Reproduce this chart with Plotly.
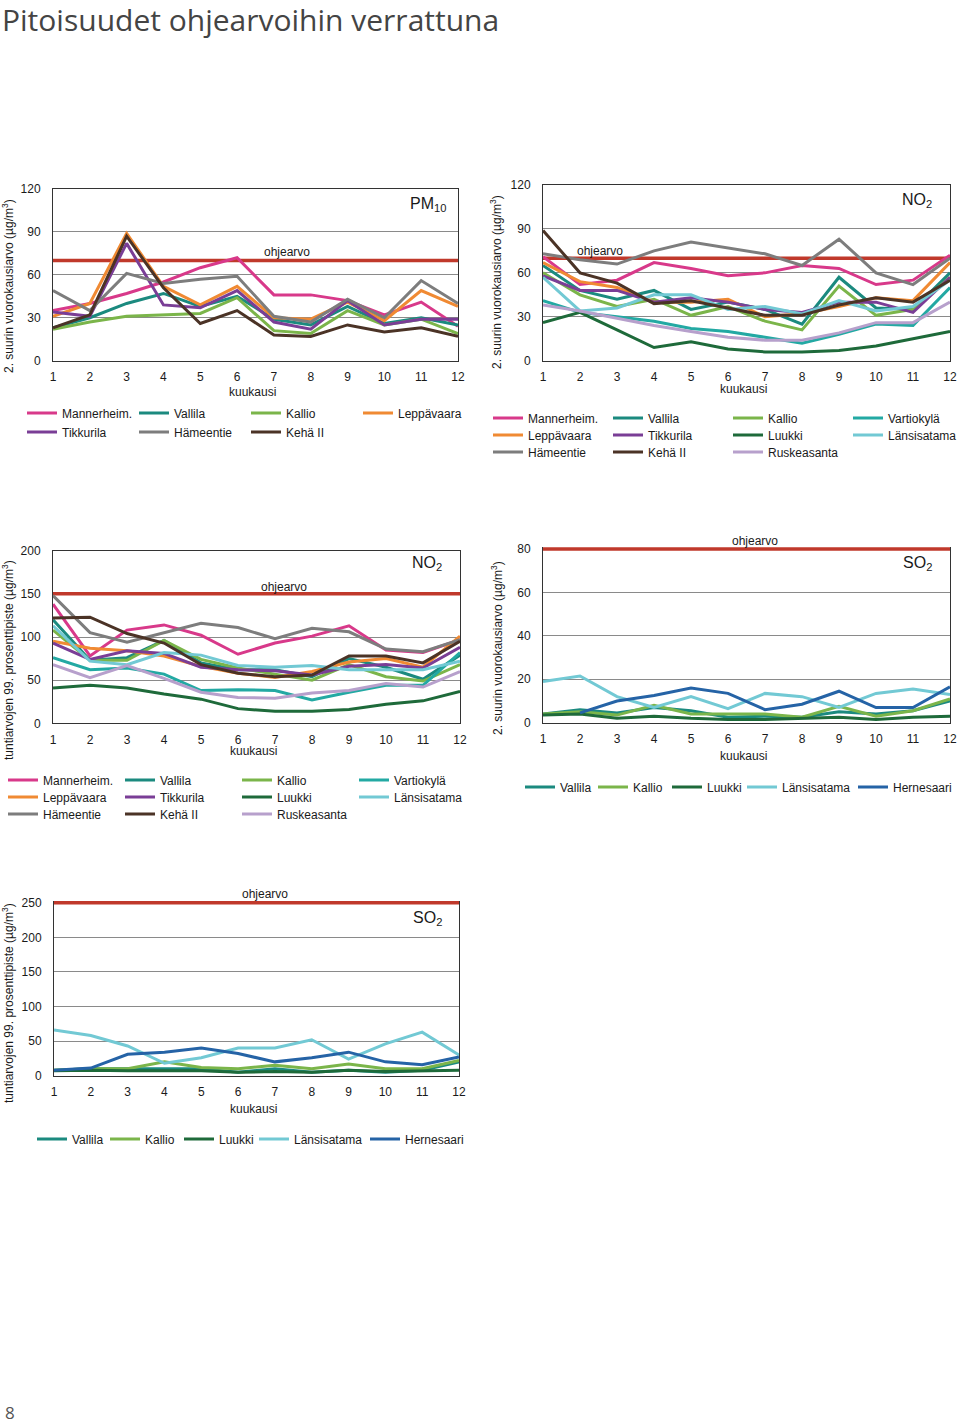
import plotly.graph_objects as go

W, H = 960, 1425
FONT = "Liberation Sans, Arial, sans-serif"
MONTHS = list(range(1, 13))

# ---------------- data ----------------
PM10_DAY = {
    "Mannerheim.": [35, 40, 47, 55, 65, 72, 46, 46, 42, 32, 41, 24],
    "Vallila":     [23, 30, 40, 47, 38, 45, 29, 25, 38, 26, 30, 25],
    "Kallio":      [22, 27, 31, 32, 33, 44, 21, 19, 35, 25, 29, 19],
    "Leppävaara":  [31, 40, 89, 52, 39, 52, 30, 29, 41, 28, 49, 38],
    "Tikkurila":   [34, 31, 82, 39, 37, 49, 27, 22, 42, 25, 29, 29],
    "Hämeentie":   [49, 35, 61, 54, 57, 59, 31, 27, 43, 30, 56, 40],
    "Kehä II":     [23, 32, 87, 51, 26, 35, 18, 17, 25, 20, 23, 17],
}
NO2_DAY = {
    "Mannerheim.": [71, 52, 55, 67, 63, 58, 60, 65, 63, 52, 55, 72],
    "Vallila":     [65, 48, 42, 48, 35, 40, 35, 25, 57, 36, 35, 60],
    "Kallio":      [60, 45, 37, 42, 31, 37, 27, 21, 51, 31, 35, 57],
    "Vartiokylä":  [41, 33, 30, 27, 22, 20, 16, 12, 18, 25, 24, 50],
    "Leppävaara":  [67, 54, 50, 40, 40, 42, 30, 32, 37, 43, 41, 67],
    "Tikkurila":   [58, 48, 48, 40, 43, 40, 35, 33, 40, 40, 33, 57],
    "Luukki":      [26, 33, 21, 9, 13, 8, 6, 6, 7, 10, 15, 20],
    "Länsisatama": [57, 34, 36, 45, 45, 35, 37, 32, 41, 34, 37, 55],
    "Hämeentie":   [73, 69, 66, 75, 81, 77, 73, 65, 83, 60, 52, 70],
    "Kehä II":     [89, 60, 53, 39, 41, 36, 31, 31, 38, 43, 40, 55],
    "Ruskeasanta": [38, 34, 29, 24, 20, 16, 14, 14, 19, 26, 26, 40],
}
NO2_HOUR = {
    "Mannerheim.": [138, 78, 108, 114, 102, 80, 93, 101, 113, 85, 82, 97],
    "Vallila":     [120, 73, 76, 96, 70, 62, 62, 54, 75, 65, 51, 79],
    "Kallio":      [108, 73, 73, 96, 74, 64, 57, 50, 68, 54, 49, 68],
    "Vartiokylä":  [76, 62, 64, 57, 38, 39, 38, 27, 36, 44, 44, 82],
    "Leppävaara":  [95, 87, 84, 78, 66, 58, 53, 60, 71, 75, 65, 101],
    "Tikkurila":   [93, 74, 84, 81, 65, 62, 61, 56, 66, 68, 64, 88],
    "Luukki":      [41, 44, 41, 34, 28, 17, 14, 14, 16, 22, 26, 37],
    "Länsisatama": [113, 72, 68, 82, 79, 67, 65, 67, 62, 62, 62, 72],
    "Hämeentie":   [148, 105, 94, 105, 116, 111, 98, 110, 106, 86, 83, 97],
    "Kehä II":     [122, 123, 104, 93, 68, 58, 54, 56, 78, 78, 70, 95],
    "Ruskeasanta": [68, 53, 67, 52, 36, 30, 29, 35, 38, 46, 42, 60],
}
SO2_DAY = {
    "Vallila":     [4, 6, 4.5, 7, 5.5, 2.5, 3, 2.5, 5, 4, 5.5, 10],
    "Kallio":      [4, 5, 3.5, 8, 4, 4, 4, 2.5, 7.5, 3, 5.5, 11],
    "Luukki":      [3.5, 4, 2, 3, 2, 1.5, 1.5, 2, 2.5, 1.5, 2.5, 3],
    "Länsisatama": [19, 21.5, 12, 7, 12, 6.5, 13.5, 12, 7, 13.5, 15.5, 13],
    "Hernesaari":  [None, 4.5, 10, 12.5, 16, 13.5, 6, 8.5, 14.5, 7, 7, 16.5],
}
SO2_HOUR = {
    "Vallila":     [8, 10, 10, 10, 10, 5, 10, 5, 8, 5, 8, 20],
    "Kallio":      [8, 10, 10, 20, 12, 10, 15, 10, 17, 10, 10, 22],
    "Luukki":      [7, 8, 7, 7, 7, 5, 6, 5, 8, 6, 7, 8],
    "Länsisatama": [66, 58, 43, 18, 26, 40, 40, 52, 24, 46, 63, 30],
    "Hernesaari":  [8, 11, 31, 34, 40, 32, 20, 26, 34, 20, 16, 27],
}
LIMITS = [70, 70, 150, 80, 250]
Y_TICKS = [
    [0, 30, 60, 90, 120],
    [0, 30, 60, 90, 120],
    [0, 50, 100, 150, 200],
    [0, 20, 40, 60, 80],
    [0, 50, 100, 150, 200, 250],
]
LABELS = ["PM<sub>10</sub>", "NO<sub>2</sub>", "NO<sub>2</sub>", "SO<sub>2</sub>", "SO<sub>2</sub>"]
Y_TITLE_DAY = "2. suurin vuorokausiarvo (µg/m<sup>3</sup>)"
Y_TITLE_HOUR = "tuntiarvojen 99. prosenttipiste (µg/m<sup>3</sup>)"

# ---------------- styles ----------------
COLORS = {
    "Mannerheim.": "#d8398a",
    "Vallila": "#1b8a7f",
    "Kallio": "#7bb54a",
    "Leppävaara": "#f08a33",
    "Tikkurila": "#7a3e96",
    "Hämeentie": "#7d7d7d",
    "Kehä II": "#4b3326",
    "Vartiokylä": "#23a9a3",
    "Luukki": "#1e6a3a",
    "Länsisatama": "#72c9d4",
    "Ruskeasanta": "#b7a0cc",
    "Hernesaari": "#2563a6",
}
RED = "#c0392b"
GRID = "#8a8a8a"
AXIS = "#333333"

def X(px):
    return px / W

def Y(py):
    return 1 - py / H

charts = [
    dict(data=PM10_DAY, xd=(53, 458), y0=360.7, ytop=189.0, rtop=120, mirror=True,
         ytitle=Y_TITLE_DAY, yt_x=8, yt_y=286, xt=(252, 392), oh=(287, 252), lab=(428, 204)),
    dict(data=NO2_DAY, xd=(543, 950), y0=360.7, ytop=185.0, rtop=120, mirror=True,
         ytitle=Y_TITLE_DAY, yt_x=496, yt_y=282, xt=(743, 389), oh=(600, 251), lab=(917, 200)),
    dict(data=NO2_HOUR, xd=(53, 460), y0=723.3, ytop=550.7, rtop=200, mirror=True,
         ytitle=Y_TITLE_HOUR, yt_x=8, yt_y=660, xt=(253, 751), oh=(284, 587), lab=(427, 564)),
    dict(data=SO2_DAY, xd=(543, 950), y0=722.7, ytop=549.0, rtop=81, mirror=False,
         ytitle=Y_TITLE_DAY, yt_x=497, yt_y=648, xt=(743, 756), oh=(755, 541), lab=(917, 564)),
    dict(data=SO2_HOUR, xd=(54, 459), y0=1075.7, ytop=902.7, rtop=253, mirror=False,
         ytitle=Y_TITLE_HOUR, yt_x=8, yt_y=1003, xt=(253, 1109), oh=(265, 894), lab=(427, 918)),
]

ROWS4_A = ["Mannerheim.", "Vallila", "Kallio", "Vartiokylä"]
ROWS4_B = ["Leppävaara", "Tikkurila", "Luukki", "Länsisatama"]
ROWS4_C = ["Hämeentie", "Kehä II", "Ruskeasanta"]
SO2_NAMES = ["Vallila", "Kallio", "Luukki", "Länsisatama", "Hernesaari"]
# (chart, names, text start px, row centre px, widths of each entry)
legend_rows = [
    (0, ["Mannerheim.", "Vallila", "Kallio", "Leppävaara"], 62, 413, [67, 67, 67, 64]),
    (0, ["Tikkurila", "Hämeentie", "Kehä II"], 62, 432, [67, 67, 50]),
    (1, ROWS4_A, 528, 418, [75, 75, 75, 64]),
    (1, ROWS4_B, 528, 435, [75, 75, 75, 66]),
    (1, ROWS4_C, 528, 452, [75, 75, 72]),
    (2, ROWS4_A, 43, 780, [72, 72, 72, 64]),
    (2, ROWS4_B, 43, 797, [72, 72, 72, 70]),
    (2, ROWS4_C, 43, 814, [72, 72, 72]),
    (3, SO2_NAMES, 560, 787, [28, 29, 30, 66, 58]),
    (4, SO2_NAMES, 72, 1139, [28, 29, 30, 66, 60]),
]

fig = go.Figure()
layout = dict(
    width=W, height=H, margin=dict(l=0, r=0, t=0, b=0, autoexpand=False),
    paper_bgcolor="white", plot_bgcolor="white",
    font=dict(family=FONT, size=12, color="#1a1a1a"),
    hovermode=False,
)
annotations = []

legend_of = {}
legend_width = {}
for k, (ci, names, tx, cy, ews) in enumerate(legend_rows):
    lid = "legend" if k == 0 else f"legend{k + 1}"
    for j, n in enumerate(names):
        legend_of[(ci, n)] = lid
        legend_width[(ci, n)] = ews[j]
    layout[lid] = dict(
        orientation="h", xanchor="left", yanchor="top",
        x=X(tx - 40), y=Y(cy - 14.5),
        font=dict(family=FONT, size=12, color="#1a1a1a"),
        bgcolor="rgba(0,0,0,0)", borderwidth=0, itemwidth=30,
        tracegroupgap=0, traceorder="normal",
    )

for i, c in enumerate(charts):
    n = i + 1
    xa = "x" if n == 1 else f"x{n}"
    ya = "y" if n == 1 else f"y{n}"
    xkey = "xaxis" if n == 1 else f"xaxis{n}"
    ykey = "yaxis" if n == 1 else f"yaxis{n}"
    scale = (c["y0"] - c["ytop"]) / Y_TICKS[i][-1]
    top_px = c["y0"] - c["rtop"] * scale
    layout[xkey] = dict(
        domain=[X(c["xd"][0]), X(c["xd"][1])], anchor=ya, range=[1, 12],
        tickvals=MONTHS, showgrid=False, zeroline=False, automargin=False,
        showline=True, linecolor=AXIS, linewidth=1, mirror=c["mirror"],
        ticks="", ticklabelstandoff=5, tickfont=dict(size=12, family=FONT, color="#1a1a1a"),
    )
    layout[ykey] = dict(
        domain=[Y(c["y0"]), Y(top_px)], anchor=xa, range=[0, c["rtop"]],
        tickvals=Y_TICKS[i], showgrid=True, gridcolor=GRID, gridwidth=1,
        zeroline=False, showline=True, linecolor=AXIS, linewidth=1, mirror=True,
        automargin=False,
        ticks="", ticklabelstandoff=9, tickfont=dict(size=12, family=FONT, color="#1a1a1a"),
    )
    fig.add_trace(go.Scatter(
        x=[MONTHS[0], MONTHS[-1]], y=[LIMITS[i], LIMITS[i]], mode="lines",
        line=dict(color=RED, width=3.5), showlegend=False, xaxis=xa, yaxis=ya,
    ))
    for name, vals in c["data"].items():
        fig.add_trace(go.Scatter(
            x=MONTHS, y=vals, mode="lines", name=name,
            line=dict(color=COLORS[name], width=3),
            xaxis=xa, yaxis=ya, legend=legend_of[(i, name)],
            legendwidth=legend_width[(i, name)],
        ))

    annotations += [
        dict(text="ohjearvo", x=X(c["oh"][0]), y=Y(c["oh"][1]), xref="paper", yref="paper",
             showarrow=False, xanchor="center", yanchor="middle",
             font=dict(size=12, family=FONT, color="#1a1a1a")),
        dict(text=LABELS[i], x=X(c["lab"][0]), y=Y(c["lab"][1]), xref="paper", yref="paper",
             showarrow=False, xanchor="center", yanchor="middle",
             font=dict(size=16, family=FONT, color="#1a1a1a")),
        dict(text=c["ytitle"], x=X(c["yt_x"]), y=Y(c["yt_y"]), xref="paper", yref="paper",
             showarrow=False, textangle=-90, xanchor="center", yanchor="middle",
             font=dict(size=12, family=FONT, color="#1a1a1a")),
        dict(text="kuukausi", x=X(c["xt"][0]), y=Y(c["xt"][1]), xref="paper", yref="paper",
             showarrow=False, xanchor="center", yanchor="middle",
             font=dict(size=12, family=FONT, color="#1a1a1a")),
    ]

annotations.append(dict(
    text="Pitoisuudet ohjearvoihin verrattuna", x=X(0), y=Y(-3), xref="paper", yref="paper",
    showarrow=False, xanchor="left", yanchor="top",
    font=dict(size=30, family="Open Sans, sans-serif", color="#444444"),
))
annotations.append(dict(
    text="8", x=X(3), y=Y(1412), xref="paper", yref="paper",
    showarrow=False, xanchor="left", yanchor="middle",
    font=dict(size=17, family="Open Sans, sans-serif", color="#555555"),
))
layout["annotations"] = annotations
fig.update_layout(**layout)
fig.write_html(
    "out.html",
    config={"displayModeBar": False, "staticPlot": True},
    post_script=(
        "document.documentElement.style.margin='0';"
        "document.documentElement.style.overflow='hidden';"
        "document.body.style.margin='0';"
        "document.body.style.padding='0';"
        "document.body.style.overflow='hidden';"
    ),
)
